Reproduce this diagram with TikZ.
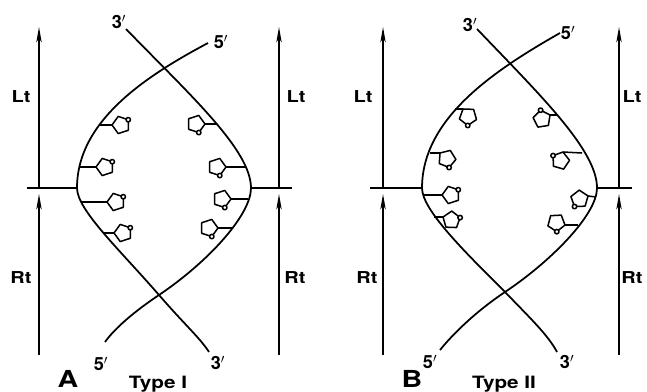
\documentclass[tikz,border=0pt]{standalone}
\usepackage{fontspec}
\setmainfont{TeX Gyre Heros}
\newfontfamily\widefont[FakeStretch=1.22]{TeX Gyre Heros}
\usetikzlibrary{arrows.meta}

\tikzset{
  strand/.style={line width=1.5pt},
  ring/.style={line width=1.3pt, line join=round},
  axis/.style={line width=1.4pt, -{Stealth[length=4.6mm, width=1.6mm, inset=1.2mm]}},
  lab/.style={font=\widefont\bfseries\fontsize{14}{14}\selectfont},
  endlab/.style={font=\bfseries\fontsize{15.5}{15.5}\selectfont},
  panel/.style={font=\widefont\bfseries\fontsize{20}{20}\selectfont},
  typelab/.style={font=\widefont\bfseries\fontsize{14.5}{14.5}\selectfont}
}

% ring radius, in picture units
\newcommand\ringr{9}
% sugar: #1 point on strand, #2 ring corner, #3 direction of ring centre, #4 corner with the O
\newcommand\sugar[4]{%
  \draw[ring] (#1) -- (#2);
  \coordinate (rc) at ([shift={(#3:\ringr)}]#2);
  \draw[ring] ([shift={(#3+180:\ringr)}]rc)
    \foreach \j in {1,...,4}{ -- ([shift={(#3+180+72*\j:\ringr)}]rc)} -- cycle;
  \draw[ring, fill=white] ([shift={(#3+180+72*#4:\ringr)}]rc) circle[radius=1.9pt];
}

\begin{document}
\begin{tikzpicture}[x=0.03cm, y=-0.03cm]
  \useasboundingbox (0,0) rectangle (647,391);

  % Type I (left)
  \coordinate (a3t) at (126,29);
  \coordinate (a5t) at (208,43);
  \coordinate (abl) at (77,188);
  \coordinate (abr) at (251,188);
  \coordinate (axb) at (159,295);
  \coordinate (a5b) at (105,342);
  \coordinate (a3b) at (209,352);

  \draw[strand] (a5t) .. controls (148,75) and (77,120) .. (abl)
    .. controls (77,210) and (120,250) .. (axb)
    .. controls (185,325) and (200,338) .. (a3b);
  \draw[strand] (a3t) .. controls (190,95) and (251,150) .. (abr)
    .. controls (251,215) and (208,262) .. (axb)
    .. controls (135,311) and (115,328) .. (a5b);

  \coordinate (ahl) at (27,188);
  \coordinate (ahr) at (292,188);
  \draw[strand] (ahl) -- (abl);
  \draw[strand] (abr) -- (ahr);

  \coordinate (alb) at (39,355);
  \coordinate (alm) at (39,188);
  \coordinate (alt) at (39,27);
  \coordinate (arb) at (279,355);
  \coordinate (arm) at (279,188);
  \coordinate (art) at (279,27);
  \draw[axis] (alm) -- (alt);
  \draw[axis] (alb) -- ([yshift=-0.18cm]alm);
  \draw[axis] (arm) -- (art);
  \draw[axis] (arb) -- ([yshift=-0.18cm]arm);

  \sugar{100,125}{112,125}{0}{2}
  \sugar{79,167}{96,167}{0}{2}
  \sugar{81,202}{107,202}{0}{2}
  \sugar{103,233}{114,233}{0}{2}

  \sugar{217,124}{205,124}{180}{1}
  \sugar{246,167}{226,167}{180}{1}
  \sugar{248,199}{231,199}{180}{1}
  \sugar{232,228}{218,228}{180}{1}

  \node[lab] (alt1) at (21,97) {Lt};
  \node[lab] (art1) at (21,278) {Rt};
  \node[lab] (alt2) at (296,97) {Lt};
  \node[lab] (art2) at (295,278) {Rt};
  \node[endlab] (a3top) at (119,22) {3$'$};
  \node[endlab] (a5top) at (221,42) {5$'$};
  \node[endlab] (a5bot) at (101,364) {5$'$};
  \node[endlab] (a3bot) at (218,363) {3$'$};
  \node[panel] (pa) at (68,379) {A};
  \node[typelab] (ta) at (158,384) {Type I};

  % Type II (right)
  \begin{scope}[xshift=10.32cm]
    \coordinate (b3t) at (133,29);
    \coordinate (b5t) at (216,33);
    \coordinate (bbl) at (78,188);
    \coordinate (bbr) at (253,188);
    \coordinate (bxb) at (161,292);
    \coordinate (b5b) at (96,350);
    \coordinate (b3b) at (213,352);

    \draw[strand] (b5t) .. controls (151,70) and (78,118) .. (bbl)
      .. controls (78,210) and (121,252) .. (bxb)
      .. controls (186,318) and (204,335) .. (b3b);
    \draw[strand] (b3t) .. controls (196,95) and (253,150) .. (bbr)
      .. controls (253,215) and (206,262) .. (bxb)
      .. controls (131,312) and (108,335) .. (b5b);

    \coordinate (bhl) at (26,188);
    \coordinate (bhr) at (288,188);
    \draw[strand] (bhl) -- (bbl);
    \draw[strand] (bbr) -- (bhr);

    \coordinate (blb) at (39,355);
    \coordinate (blm) at (39,188);
    \coordinate (blt) at (39,27);
    \coordinate (brb) at (275,355);
    \coordinate (brm) at (275,188);
    \coordinate (brt) at (275,27);
    \draw[axis] (blm) -- (blt);
    \draw[axis] (blb) -- ([yshift=-0.18cm]blm);
    \draw[axis] (brm) -- (brt);
    \draw[axis] (brb) -- ([yshift=-0.18cm]brm);

    \sugar{111,109}{119,109}{56}{3}
    \sugar{86,153}{96,153}{40}{3}
    \sugar{79,195}{98,195}{0}{2}
    \sugar{90,217}{99,217}{20}{2}

    \sugar{214,115}{206,115}{153}{4}
    \sugar{238,153}{219,152}{106}{4}
    \sugar{252,197}{244,196}{160}{2}
    \sugar{234,225}{221,225}{195}{1}

    \node[lab] (blt1) at (19,97) {Lt};
    \node[lab] (brt1) at (23,278) {Rt};
    \node[lab] (blt2) at (288,97) {Lt};
    \node[lab] (brt2) at (288,278) {Rt};
    \node[endlab] (b3top) at (126,25) {3$'$};
    \node[endlab] (b5top) at (224,33) {5$'$};
    \node[endlab] (b5bot) at (86,362) {5$'$};
    \node[endlab] (b3bot) at (223,362) {3$'$};
    \node[panel] (pb) at (68,379) {B};
    \node[typelab] (tb) at (160,384) {Type II};
  \end{scope}
\end{tikzpicture}
\end{document}
